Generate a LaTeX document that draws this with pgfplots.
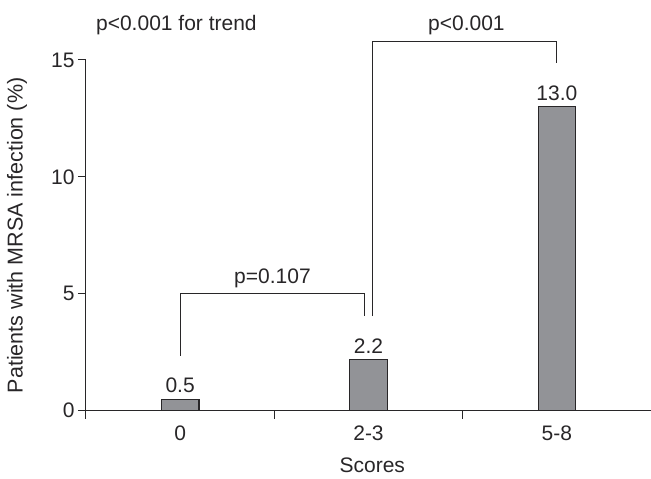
\documentclass[border=0pt]{standalone}
\usepackage{fontspec}
\setmainfont{Liberation Sans}
\usepackage{pgfplots}
\pgfplotsset{compat=1.18}
\definecolor{barfill}{RGB}{146,147,151}
\definecolor{ink}{RGB}{40,38,40}
\newcommand{\lab}{\fontsize{21}{25}\selectfont}

\begin{document}
\begin{tikzpicture}
\begin{axis}[scale only axis,width=565pt,height=350.7pt,
  xmin=-0.5,xmax=2.5,ymin=0,ymax=15,clip=false,
  axis x line=bottom,axis y line=left,axis line style={-,ink,line width=1pt},
  ytick={0,5,10,15},xtick={-0.5,0.5,1.5,2.5},xticklabels={},
  tick align=outside,major tick length=8pt,tick style={ink,line width=1pt},
  /pgf/number format/assume math mode=true,
  tick label style={font=\lab,text=ink},
  ylabel={Patients with MRSA infection (\%)},
  every axis y label/.style={at={(axis description cs:-0.122,0.5)},rotate=90,anchor=center,font=\fontsize{21.5}{25}\selectfont,text=ink},
  ybar,bar width=0.2,
  nodes near coords,nodes near coords style={font=\lab,text=ink,yshift=2pt,
    /pgf/number format/fixed,/pgf/number format/precision=1,/pgf/number format/fixed zerofill,
    /pgf/number format/assume math mode=true}]
\addplot[fill=barfill,draw=ink,line width=1pt] coordinates {(0,0.5) (1,2.2) (2,13.0)};

% category labels and axis title
\node[anchor=base,font=\lab,text=ink] at ([yshift=-30pt]axis cs:0,0) {0};
\node[anchor=base,font=\lab,text=ink] at ([yshift=-30pt]axis cs:1,0) {2-3};
\node[anchor=base,font=\lab,text=ink] at ([yshift=-30pt]axis cs:2,0) {5-8};
\node[anchor=base,font=\lab,text=ink] at ([yshift=-62pt]axis cs:1.02,0) {Scores};

% significance brackets
\draw[ink,line width=1pt] (axis cs:0,2.35) -- (axis cs:0,5) -- (axis cs:0.98,5) -- (axis cs:0.98,4.05);
\draw[ink,line width=1pt] (axis cs:1.02,4.05) -- (axis cs:1.02,15.8) -- (axis cs:2,15.8) -- (axis cs:2,14.87);
\node[anchor=base,font=\lab,text=ink] at (axis cs:0.49,5.42) {p=0.107};
\node[anchor=base,font=\lab,text=ink] at (axis cs:1.52,16.28) {p<0.001};
\node[anchor=base,font=\lab,text=ink] at (axis cs:-0.02,16.28) {p<0.001 for trend};

\coordinate (bl) at (axis description cs:-0.1522,-0.1919);
\coordinate (tr) at (axis description cs:1,1.1711);
\end{axis}
\pgfresetboundingbox
\path (bl) rectangle (tr);
\end{tikzpicture}
\end{document}
